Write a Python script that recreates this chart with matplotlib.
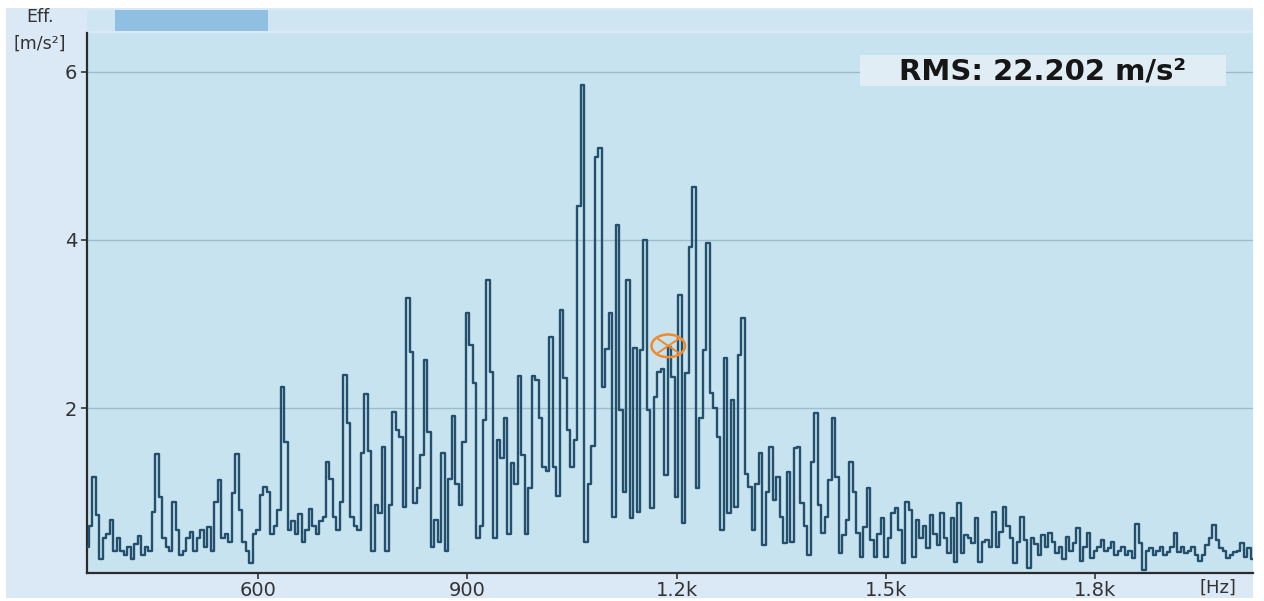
import numpy as np
import matplotlib
matplotlib.use("Agg")
import matplotlib.pyplot as plt
from matplotlib.patches import Rectangle, Ellipse

# spectrum, 5 Hz bins from 355 Hz to 2025 Hz
freq_start = 355
freq_step = 5
eff_values = [
    0.35, 0.6, 1.18, 0.73, 0.2, 0.45, 0.5, 0.67, 0.3, 0.45,
    0.3, 0.25, 0.35, 0.2, 0.38, 0.48, 0.25, 0.35, 0.3, 0.76,
    1.45, 0.94, 0.45, 0.35, 0.3, 0.88, 0.55, 0.25, 0.3, 0.45,
    0.53, 0.3, 0.45, 0.55, 0.35, 0.58, 0.3, 0.88, 1.14, 0.45,
    0.5, 0.4, 0.99, 1.45, 0.78, 0.4, 0.3, 0.15, 0.5, 0.55,
    0.96, 1.06, 1.0, 0.5, 0.6, 0.79, 2.25, 1.6, 0.55, 0.65,
    0.5, 0.74, 0.4, 0.55, 0.8, 0.6, 0.5, 0.65, 0.7, 1.36,
    1.15, 0.7, 0.55, 0.88, 2.39, 1.82, 0.7, 0.6, 0.55, 1.47,
    2.17, 1.49, 0.3, 0.85, 0.75, 1.54, 0.3, 0.85, 1.95, 1.74,
    1.66, 0.82, 3.31, 2.67, 0.87, 1.05, 1.44, 2.57, 1.71, 0.35,
    0.67, 0.4, 1.46, 0.3, 1.15, 1.9, 1.1, 0.85, 1.6, 3.13,
    2.75, 2.3, 0.45, 0.6, 1.86, 3.52, 2.43, 0.45, 1.62, 1.4,
    1.88, 0.5, 1.35, 1.1, 2.38, 1.44, 0.5, 1.05, 2.38, 2.33,
    1.88, 1.3, 1.25, 2.85, 1.3, 0.95, 3.17, 2.36, 1.74, 1.3,
    1.62, 4.4, 5.85, 0.4, 1.1, 1.55, 4.99, 5.1, 2.25, 2.7,
    3.13, 0.7, 4.18, 1.98, 1.0, 3.52, 0.69, 2.71, 0.76, 2.69,
    4.0, 1.98, 0.81, 2.13, 2.43, 2.47, 1.2, 2.73, 2.37, 0.94,
    3.35, 0.63, 2.42, 3.92, 4.63, 1.05, 1.88, 2.69, 3.96, 2.18,
    2.0, 1.65, 0.55, 2.6, 0.75, 2.1, 0.82, 2.63, 3.07, 1.22,
    1.06, 0.55, 1.1, 1.47, 0.37, 1.0, 1.54, 0.9, 1.18, 0.7,
    0.39, 1.24, 0.4, 1.52, 1.54, 0.87, 0.6, 0.25, 1.36, 1.94,
    0.85, 0.51, 0.7, 1.14, 1.88, 1.18, 0.27, 0.49, 0.67, 1.36,
    1.0, 0.51, 0.23, 0.58, 1.05, 0.43, 0.23, 0.5, 0.69, 0.23,
    0.45, 0.75, 0.81, 0.55, 0.15, 0.88, 0.79, 0.23, 0.67, 0.45,
    0.6, 0.33, 0.73, 0.5, 0.37, 0.75, 0.45, 0.27, 0.69, 0.17,
    0.87, 0.27, 0.49, 0.45, 0.39, 0.69, 0.17, 0.4, 0.43, 0.35,
    0.76, 0.35, 0.53, 0.82, 0.6, 0.45, 0.15, 0.4, 0.7, 0.43,
    0.1, 0.45, 0.38, 0.25, 0.49, 0.35, 0.51, 0.4, 0.27, 0.35,
    0.2, 0.46, 0.3, 0.39, 0.57, 0.18, 0.35, 0.51, 0.22, 0.3,
    0.35, 0.43, 0.3, 0.33, 0.4, 0.25, 0.3, 0.35, 0.25, 0.3,
    0.21, 0.62, 0.39, 0.07, 0.3, 0.33, 0.25, 0.3, 0.35, 0.25,
    0.29, 0.35, 0.51, 0.29, 0.35, 0.27, 0.3, 0.35, 0.25, 0.18,
    0.25, 0.37, 0.45, 0.61, 0.43, 0.33, 0.3, 0.21, 0.25, 0.29,
    0.3, 0.39, 0.23, 0.33, 0.2,
]
freqs = freq_start + freq_step * np.arange(len(eff_values))

x_ticks = [600, 900, 1200, 1500, 1800]
x_tick_labels = ["600", "900", "1.2k", "1.5k", "1.8k"]
y_ticks = [2, 4, 6]
rms_text = "RMS: 22.202 m/s\u00b2"
cursor_freq = 1188
cursor_val = 2.74

W, H = 1264, 601
fig = plt.figure(figsize=(W / 100, H / 100), dpi=100)
fig.patch.set_facecolor("white")

# outer panel
fig.add_artist(Rectangle((6 / W, 3 / H), 1247 / W, 590 / H, transform=fig.transFigure,
                         facecolor="#dbe8f5", edgecolor="none", zorder=-10))
# scroll strip on top
fig.add_artist(Rectangle((87 / W, 570 / H), 1166 / W, 21 / H, transform=fig.transFigure,
                         facecolor="#cfe5f1", edgecolor="none", zorder=-9))
fig.add_artist(Rectangle((115 / W, 570 / H), 153 / W, 21 / H, transform=fig.transFigure,
                         facecolor="#8fbfe1", edgecolor="none", zorder=-8))

ax = fig.add_axes([87 / W, 28 / H, 1166 / W, 540 / H])
ax.set_facecolor("#c7e3ef")

ax.step(freqs, eff_values, where="mid", color="#24506e", lw=1.7, zorder=3)

# cursor marker
cw, ch = 48, 0.27
ax.add_patch(Ellipse((cursor_freq, cursor_val), cw, ch, facecolor="none",
                     edgecolor="#f08a2c", lw=1.8, zorder=5))
ax.plot([cursor_freq - cw * 0.3, cursor_freq + cw * 0.3],
        [cursor_val - ch * 0.3, cursor_val + ch * 0.3], color="#f08a2c", lw=1.4, zorder=5)
ax.plot([cursor_freq - cw * 0.3, cursor_freq + cw * 0.3],
        [cursor_val + ch * 0.3, cursor_val - ch * 0.3], color="#f08a2c", lw=1.4, zorder=5)

ax.set_xlim(355, 2026)
ax.set_ylim(0.036, 6.464)

ax.set_xticks(x_ticks)
ax.set_xticklabels(x_tick_labels)
ax.set_yticks(y_ticks)
ax.tick_params(axis="both", labelsize=14, colors="#333333", length=4, width=1.2)
ax.tick_params(axis="x", pad=2)
ax.tick_params(axis="y", pad=3)

ax.yaxis.grid(True, color="#9dbccb", lw=1.0)
ax.set_axisbelow(True)
for s in ["top", "right"]:
    ax.spines[s].set_visible(False)
for s in ["left", "bottom"]:
    ax.spines[s].set_color("#2b2b2b")
    ax.spines[s].set_linewidth(1.6)

# RMS box
fig.add_artist(Rectangle((860 / W, (H - 86) / H), 366 / W, 31 / H, transform=fig.transFigure,
                         facecolor="#e0edf5", edgecolor="none", zorder=6))
fig.text(1043 / W, (H - 71) / H, rms_text, ha="center", va="center",
         fontsize=21, fontweight="bold", color="#161616", zorder=7)

fig.text(40 / W, (H - 17) / H, "Eff.", ha="center", va="center", fontsize=12.5, color="#333333")
fig.text(40 / W, (H - 44) / H, "[m/s\u00b2]", ha="center", va="center", fontsize=12.5, color="#333333")
fig.text(1218 / W, (H - 588) / H, "[Hz]", ha="center", va="center", fontsize=13, color="#333333")

fig.savefig("out.png", dpi=100, facecolor=fig.get_facecolor())
